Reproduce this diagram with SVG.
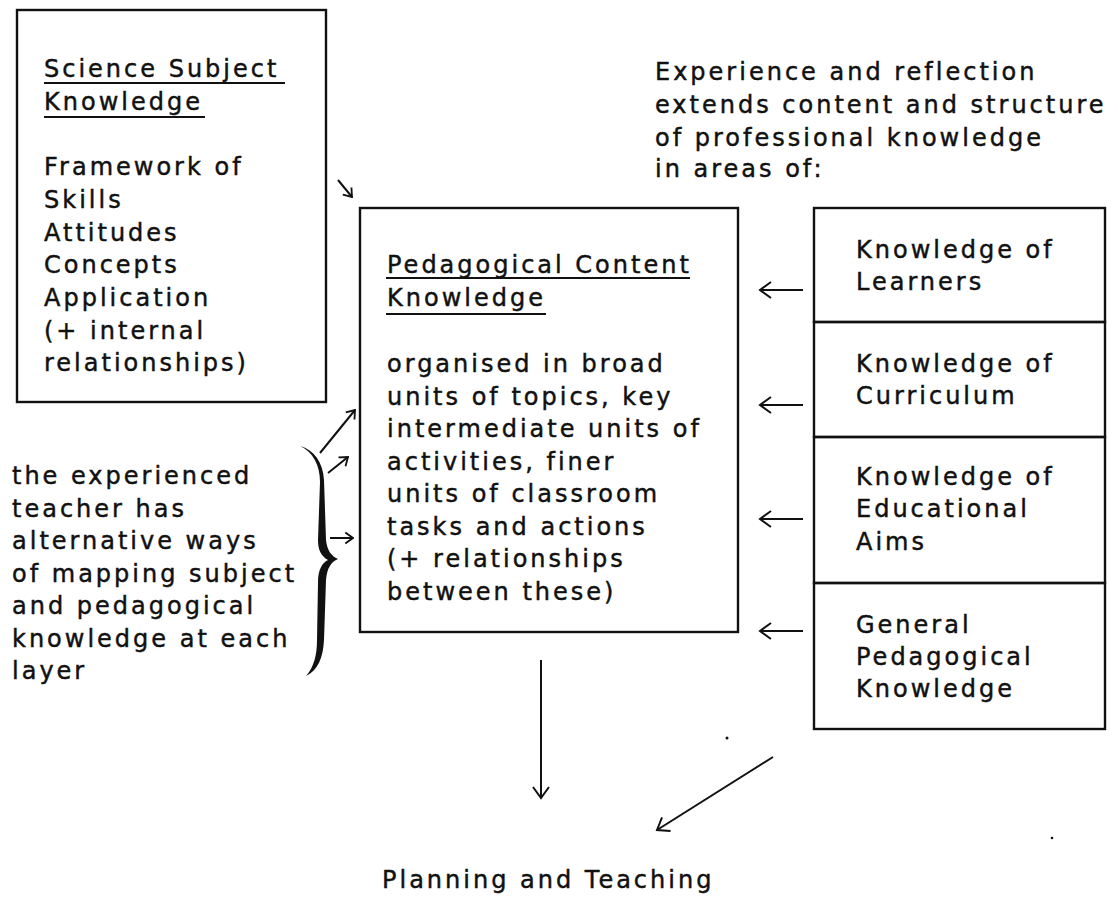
<svg xmlns="http://www.w3.org/2000/svg" width="1118" height="902" viewBox="0 0 1118 902">
<style>
.t{font-family:"DejaVu Sans","Liberation Sans",sans-serif;font-size:24px;letter-spacing:3px;fill:#111;stroke:#111;stroke-width:0.45}
.box{fill:none;stroke:#111;stroke-width:2.4}
.ul{stroke:#111;stroke-width:2}
.c{fill:none;stroke:#111;stroke-width:2}
</style>
<defs>
<marker id="head" viewBox="0 0 20 20" refX="18" refY="10" markerWidth="20" markerHeight="20" markerUnits="userSpaceOnUse" orient="auto">
<path d="M7,2 L18,10 L7,18" fill="none" stroke="#111" stroke-width="2"/>
</marker>
<marker id="headsm" viewBox="0 0 20 20" refX="18" refY="10" markerWidth="14" markerHeight="14" markerUnits="userSpaceOnUse" orient="auto">
<path d="M7,2 L18,10 L7,18" fill="none" stroke="#111" stroke-width="2.6"/>
</marker>
</defs>
<rect width="1118" height="902" fill="#fff"/>

<g id="science-subject-knowledge">
<rect class="box" x="17" y="10" width="309" height="392"/>
<text class="t" x="44" y="77">Science Subject</text>
<line class="ul" x1="44" y1="83" x2="285" y2="83"/>
<text class="t" x="44" y="110">Knowledge</text>
<line class="ul" x1="44" y1="117" x2="205" y2="117"/>
<text class="t" x="44" y="175">Framework of</text>
<text class="t" x="44" y="208">Skills</text>
<text class="t" x="44" y="241">Attitudes</text>
<text class="t" x="44" y="273">Concepts</text>
<text class="t" x="44" y="306">Application</text>
<text class="t" x="44" y="339">(+ internal</text>
<text class="t" x="44" y="371">relationships)</text>
</g>

<g id="pedagogical-content-knowledge">
<rect class="box" x="360" y="208" width="378" height="424"/>
<text class="t" x="387" y="273">Pedagogical Content</text>
<line class="ul" x1="386" y1="278" x2="690" y2="278"/>
<text class="t" x="387" y="306">Knowledge</text>
<line class="ul" x1="386" y1="314" x2="546" y2="314"/>
<text class="t" x="387" y="372">organised in broad</text>
<text class="t" x="387" y="404.5">units of topics, key</text>
<text class="t" x="387" y="437">intermediate units of</text>
<text class="t" x="387" y="469.5">activities, finer</text>
<text class="t" x="387" y="502">units of classroom</text>
<text class="t" x="387" y="534.5">tasks and actions</text>
<text class="t" x="387" y="567">(+ relationships</text>
<text class="t" x="387" y="599.5">between these)</text>
</g>

<g id="experience-note">
<text class="t" x="655" y="80">Experience and reflection</text>
<text class="t" x="655" y="113">extends content and structure</text>
<text class="t" x="655" y="146">of professional knowledge</text>
<text class="t" x="655" y="177">in areas of:</text>
</g>

<g id="knowledge-of-learners">
<rect class="box" x="814" y="208" width="291" height="114"/>
<text class="t" x="856" y="258">Knowledge of</text>
<text class="t" x="856" y="290">Learners</text>
</g>
<g id="knowledge-of-curriculum">
<rect class="box" x="814" y="322" width="291" height="115"/>
<text class="t" x="856" y="372">Knowledge of</text>
<text class="t" x="856" y="404">Curriculum</text>
</g>
<g id="knowledge-of-educational-aims">
<rect class="box" x="814" y="437" width="291" height="146"/>
<text class="t" x="856" y="485">Knowledge of</text>
<text class="t" x="856" y="517">Educational</text>
<text class="t" x="856" y="550">Aims</text>
</g>
<g id="general-pedagogical-knowledge">
<rect class="box" x="814" y="583" width="291" height="146"/>
<text class="t" x="856" y="633">General</text>
<text class="t" x="856" y="665">Pedagogical</text>
<text class="t" x="856" y="697">Knowledge</text>
</g>

<g id="experienced-teacher-note">
<text class="t" x="12" y="484">the experienced</text>
<text class="t" x="12" y="516.5">teacher has</text>
<text class="t" x="12" y="549">alternative ways</text>
<text class="t" x="12" y="581.5">of mapping subject</text>
<text class="t" x="12" y="614">and pedagogical</text>
<text class="t" x="12" y="646.5">knowledge at each</text>
<text class="t" x="12" y="679">layer</text>
<path fill="#111" d="M300,446 C314,450 323,462 324,480 L326,540 C327,550 331,556 338,559 C331,562 327,568 326,580 L324,640 C323,658 318,670 306,676 C314,667 317,655 317,640 L318,582 C318,570 322,563 328,560 C321,556 318,550 318,540 L320,482 C320,465 313,452 300,446 Z"/>
</g>

<g id="planning-and-teaching">
<text class="t" x="382" y="888">Planning and Teaching</text>
</g>

<g id="connectors">
<line class="c" x1="338" y1="180" x2="352" y2="197" marker-end="url(#headsm)"/>
<line class="c" x1="320" y1="453" x2="355" y2="410" marker-end="url(#headsm)"/>
<line class="c" x1="328" y1="473" x2="348" y2="457" marker-end="url(#headsm)"/>
<line class="c" x1="330" y1="538" x2="353" y2="538" marker-end="url(#headsm)"/>
<line class="c" x1="803" y1="290" x2="760" y2="290" marker-end="url(#head)"/>
<line class="c" x1="803" y1="405" x2="760" y2="405" marker-end="url(#head)"/>
<line class="c" x1="803" y1="519" x2="760" y2="519" marker-end="url(#head)"/>
<line class="c" x1="803" y1="631" x2="760" y2="631" marker-end="url(#head)"/>
<line class="c" x1="541" y1="660" x2="541" y2="798" marker-end="url(#head)"/>
<line class="c" x1="773" y1="757" x2="657" y2="830" marker-end="url(#head)"/>
</g>
<circle cx="727" cy="738" r="1.5" fill="#111"/>
<circle cx="1052" cy="838" r="1.3" fill="#111"/>
</svg>
